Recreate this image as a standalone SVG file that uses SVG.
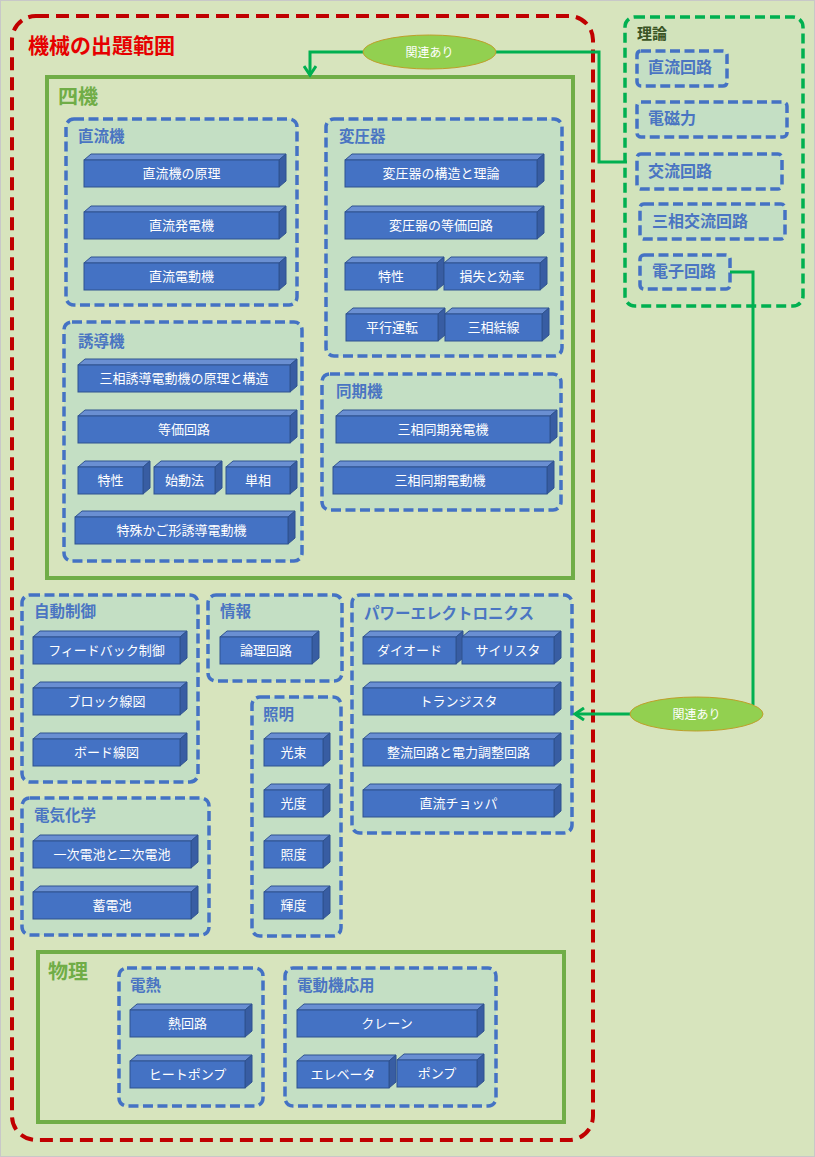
<svg xmlns="http://www.w3.org/2000/svg" width="815" height="1157" viewBox="0 0 815 1157">
<style>
text{font-family:"Noto Sans CJK JP","Noto Sans CJK SC",sans-serif}
.t{fill:#6a8fd2;stroke:#2f528f;stroke-width:1}
.s{fill:#385da3;stroke:#2f528f;stroke-width:1}
.f{fill:#4472c4;stroke:#2f528f;stroke-width:1}
.bt{fill:#fff;font-size:13px;text-anchor:middle}
.grp{fill:#c4dfc4;stroke:#4472c4;stroke-width:3.5;stroke-dasharray:10 4.5}
.gl{fill:#4a75c2;font-size:15.5px;font-weight:bold}
.tl{fill:#4a75c2;font-size:16px;font-weight:bold}
.sec{fill:none;stroke:#70ad47;stroke-width:4}
.secl{fill:#70ad47;font-size:20px;font-weight:bold}
.conn{fill:none;stroke:#00b050;stroke-width:3}
.ell{fill:#92d050;stroke:#bf9f2a;stroke-width:1}
.el{fill:#fff;font-size:12px;text-anchor:middle}
</style>
<defs>
<marker id="arr" markerWidth="14" markerHeight="14" refX="11" refY="7" orient="auto" markerUnits="userSpaceOnUse">
<path d="M2,1 L11,7 L2,13" fill="none" stroke="#00b050" stroke-width="3"/>
</marker>
</defs>
<rect x="0" y="0" width="815" height="1157" fill="#d7e4bd"/>
<rect x="0.5" y="0.5" width="814" height="1156" fill="none" stroke="#c8c8c8" stroke-width="1"/>

<g id="scope">
<rect x="12" y="16" width="581" height="1124" rx="24" fill="none" stroke="#c00000" stroke-width="4" stroke-dasharray="13 7"/>
<text x="28" y="53" font-size="21" font-weight="bold" fill="#e60000">機械の出題範囲</text>
</g>

<g id="theory">
<rect x="625" y="17" width="178" height="289" rx="10" fill="#d2e3bb" stroke="#00b050" stroke-width="3.5" stroke-dasharray="10 5"/>
<text x="637" y="39" font-size="15" font-weight="bold" fill="#3a5424">理論</text>
</g>
<g id="t-dc"><rect class="grp" x="637" y="51" width="90" height="35" rx="4"/><text class="tl" x="648" y="73">直流回路</text></g>
<g id="t-em"><rect class="grp" x="637" y="102" width="150" height="35" rx="4"/><text class="tl" x="648" y="124">電磁力</text></g>
<g id="t-ac"><rect class="grp" x="637" y="154" width="145" height="35" rx="4"/><text class="tl" x="648" y="177">交流回路</text></g>
<g id="t-3ac"><rect class="grp" x="640" y="204" width="145" height="35" rx="4"/><text class="tl" x="652" y="227">三相交流回路</text></g>
<g id="t-elec"><rect class="grp" x="640" y="255" width="90" height="34" rx="4"/><text class="tl" x="652" y="277">電子回路</text></g>

<g id="four">
<rect class="sec" x="47" y="77" width="526" height="501"/>
<text class="secl" x="58" y="104">四機</text>
</g>

<g id="dcm">
<rect class="grp" x="66" y="119" width="231" height="186" rx="8"/>
<text class="gl" x="78" y="142">直流機</text>
<g id="dcm1"><path class="t" d="M84,160 l7,-6 h195 l-7,6 z"/><path class="s" d="M279,160 l7,-6 v27 l-7,6 z"/><rect class="f" x="84" y="160" width="195" height="27"/><text class="bt" x="181.5" y="178">直流機の原理</text></g>
<g id="dcm2"><path class="t" d="M84,212 l7,-6 h195 l-7,6 z"/><path class="s" d="M279,212 l7,-6 v27 l-7,6 z"/><rect class="f" x="84" y="212" width="195" height="27"/><text class="bt" x="181.5" y="230">直流発電機</text></g>
<g id="dcm3"><path class="t" d="M84,263 l7,-6 h195 l-7,6 z"/><path class="s" d="M279,263 l7,-6 v27 l-7,6 z"/><rect class="f" x="84" y="263" width="195" height="27"/><text class="bt" x="181.5" y="281">直流電動機</text></g>
</g>

<g id="trans">
<rect class="grp" x="326" y="119" width="236" height="237" rx="8"/>
<text class="gl" x="339" y="142">変圧器</text>
<g id="tr1"><path class="t" d="M345,160 l7,-6 h192 l-7,6 z"/><path class="s" d="M537,160 l7,-6 v27 l-7,6 z"/><rect class="f" x="345" y="160" width="192" height="27"/><text class="bt" x="441" y="178">変圧器の構造と理論</text></g>
<g id="tr2"><path class="t" d="M345,212 l7,-6 h192 l-7,6 z"/><path class="s" d="M537,212 l7,-6 v27 l-7,6 z"/><rect class="f" x="345" y="212" width="192" height="27"/><text class="bt" x="441" y="230">変圧器の等価回路</text></g>
<g id="tr3"><path class="t" d="M345,263 l7,-6 h92 l-7,6 z"/><path class="s" d="M437,263 l7,-6 v27 l-7,6 z"/><rect class="f" x="345" y="263" width="92" height="27"/><text class="bt" x="391" y="281">特性</text></g>
<g id="tr4"><path class="t" d="M444,263 l7,-6 h96 l-7,6 z"/><path class="s" d="M540,263 l7,-6 v27 l-7,6 z"/><rect class="f" x="444" y="263" width="96" height="27"/><text class="bt" x="492" y="281">損失と効率</text></g>
<g id="tr5"><path class="t" d="M346,314 l7,-6 h92 l-7,6 z"/><path class="s" d="M438,314 l7,-6 v27 l-7,6 z"/><rect class="f" x="346" y="314" width="92" height="27"/><text class="bt" x="392" y="332">平行運転</text></g>
<g id="tr6"><path class="t" d="M445,314 l7,-6 h97 l-7,6 z"/><path class="s" d="M542,314 l7,-6 v27 l-7,6 z"/><rect class="f" x="445" y="314" width="97" height="27"/><text class="bt" x="493.5" y="332">三相結線</text></g>
</g>

<g id="ind">
<rect class="grp" x="64" y="322" width="238" height="239" rx="8"/>
<text class="gl" x="78" y="347">誘導機</text>
<g id="in1"><path class="t" d="M78,365 l7,-6 h212 l-7,6 z"/><path class="s" d="M290,365 l7,-6 v27 l-7,6 z"/><rect class="f" x="78" y="365" width="212" height="27"/><text class="bt" x="184" y="383">三相誘導電動機の原理と構造</text></g>
<g id="in2"><path class="t" d="M78,416 l7,-6 h212 l-7,6 z"/><path class="s" d="M290,416 l7,-6 v27 l-7,6 z"/><rect class="f" x="78" y="416" width="212" height="27"/><text class="bt" x="184" y="434">等価回路</text></g>
<g id="in3"><path class="t" d="M78,467 l7,-6 h65 l-7,6 z"/><path class="s" d="M143,467 l7,-6 v27 l-7,6 z"/><rect class="f" x="78" y="467" width="65" height="27"/><text class="bt" x="110.5" y="485">特性</text></g>
<g id="in4"><path class="t" d="M154,467 l7,-6 h61 l-7,6 z"/><path class="s" d="M215,467 l7,-6 v27 l-7,6 z"/><rect class="f" x="154" y="467" width="61" height="27"/><text class="bt" x="184.5" y="485">始動法</text></g>
<g id="in5"><path class="t" d="M226,467 l7,-6 h64 l-7,6 z"/><path class="s" d="M290,467 l7,-6 v27 l-7,6 z"/><rect class="f" x="226" y="467" width="64" height="27"/><text class="bt" x="258" y="485">単相</text></g>
<g id="in6"><path class="t" d="M75,517 l7,-6 h213 l-7,6 z"/><path class="s" d="M288,517 l7,-6 v27 l-7,6 z"/><rect class="f" x="75" y="517" width="213" height="27"/><text class="bt" x="181.5" y="535">特殊かご形誘導電動機</text></g>
</g>

<g id="sync">
<rect class="grp" x="322" y="374" width="239" height="136" rx="8"/>
<text class="gl" x="336" y="397">同期機</text>
<g id="sy1"><path class="t" d="M336,416 l7,-6 h214 l-7,6 z"/><path class="s" d="M550,416 l7,-6 v27 l-7,6 z"/><rect class="f" x="336" y="416" width="214" height="27"/><text class="bt" x="443" y="434">三相同期発電機</text></g>
<g id="sy2"><path class="t" d="M333,467 l7,-6 h214 l-7,6 z"/><path class="s" d="M547,467 l7,-6 v27 l-7,6 z"/><rect class="f" x="333" y="467" width="214" height="27"/><text class="bt" x="440" y="485">三相同期電動機</text></g>
</g>

<g id="auto">
<rect class="grp" x="22" y="595" width="176" height="187" rx="8"/>
<text class="gl" x="34" y="617">自動制御</text>
<g id="au1"><path class="t" d="M33,637 l7,-6 h147 l-7,6 z"/><path class="s" d="M180,637 l7,-6 v27 l-7,6 z"/><rect class="f" x="33" y="637" width="147" height="27"/><text class="bt" x="106.5" y="655">フィードバック制御</text></g>
<g id="au2"><path class="t" d="M33,688 l7,-6 h147 l-7,6 z"/><path class="s" d="M180,688 l7,-6 v27 l-7,6 z"/><rect class="f" x="33" y="688" width="147" height="27"/><text class="bt" x="106.5" y="706">ブロック線図</text></g>
<g id="au3"><path class="t" d="M33,739 l7,-6 h147 l-7,6 z"/><path class="s" d="M180,739 l7,-6 v27 l-7,6 z"/><rect class="f" x="33" y="739" width="147" height="27"/><text class="bt" x="106.5" y="757">ボード線図</text></g>
</g>

<g id="info">
<rect class="grp" x="208" y="595" width="134" height="86" rx="8"/>
<text class="gl" x="220" y="617">情報</text>
<g id="if1"><path class="t" d="M220,637 l7,-6 h92 l-7,6 z"/><path class="s" d="M312,637 l7,-6 v27 l-7,6 z"/><rect class="f" x="220" y="637" width="92" height="27"/><text class="bt" x="266" y="655">論理回路</text></g>
</g>

<g id="echem">
<rect class="grp" x="22" y="798" width="187" height="137" rx="8"/>
<text class="gl" x="34" y="821">電気化学</text>
<g id="ec1"><path class="t" d="M33,841 l7,-6 h158 l-7,6 z"/><path class="s" d="M191,841 l7,-6 v27 l-7,6 z"/><rect class="f" x="33" y="841" width="158" height="27"/><text class="bt" x="112" y="859">一次電池と二次電池</text></g>
<g id="ec2"><path class="t" d="M33,892 l7,-6 h158 l-7,6 z"/><path class="s" d="M191,892 l7,-6 v27 l-7,6 z"/><rect class="f" x="33" y="892" width="158" height="27"/><text class="bt" x="112" y="910">蓄電池</text></g>
</g>

<g id="light">
<rect class="grp" x="252" y="697" width="89" height="239" rx="8"/>
<text class="gl" x="263" y="720">照明</text>
<g id="li1"><path class="t" d="M264,739 l7,-6 h59 l-7,6 z"/><path class="s" d="M323,739 l7,-6 v27 l-7,6 z"/><rect class="f" x="264" y="739" width="59" height="27"/><text class="bt" x="293.5" y="757">光束</text></g>
<g id="li2"><path class="t" d="M264,790 l7,-6 h59 l-7,6 z"/><path class="s" d="M323,790 l7,-6 v27 l-7,6 z"/><rect class="f" x="264" y="790" width="59" height="27"/><text class="bt" x="293.5" y="808">光度</text></g>
<g id="li3"><path class="t" d="M264,841 l7,-6 h59 l-7,6 z"/><path class="s" d="M323,841 l7,-6 v27 l-7,6 z"/><rect class="f" x="264" y="841" width="59" height="27"/><text class="bt" x="293.5" y="859">照度</text></g>
<g id="li4"><path class="t" d="M264,892 l7,-6 h59 l-7,6 z"/><path class="s" d="M323,892 l7,-6 v27 l-7,6 z"/><rect class="f" x="264" y="892" width="59" height="27"/><text class="bt" x="293.5" y="910">輝度</text></g>
</g>

<g id="pe">
<rect class="grp" x="352" y="595" width="220" height="238" rx="8"/>
<text class="gl" x="364" y="619">パワーエレクトロニクス</text>
<g id="pe1"><path class="t" d="M363,637 l7,-6 h93 l-7,6 z"/><path class="s" d="M456,637 l7,-6 v27 l-7,6 z"/><rect class="f" x="363" y="637" width="93" height="27"/><text class="bt" x="409.5" y="655">ダイオード</text></g>
<g id="pe2"><path class="t" d="M462,637 l7,-6 h92 l-7,6 z"/><path class="s" d="M554,637 l7,-6 v27 l-7,6 z"/><rect class="f" x="462" y="637" width="92" height="27"/><text class="bt" x="508" y="655">サイリスタ</text></g>
<g id="pe3"><path class="t" d="M363,688 l7,-6 h191 l-7,6 z"/><path class="s" d="M554,688 l7,-6 v27 l-7,6 z"/><rect class="f" x="363" y="688" width="191" height="27"/><text class="bt" x="458.5" y="706">トランジスタ</text></g>
<g id="pe4"><path class="t" d="M363,739 l7,-6 h191 l-7,6 z"/><path class="s" d="M554,739 l7,-6 v27 l-7,6 z"/><rect class="f" x="363" y="739" width="191" height="27"/><text class="bt" x="458.5" y="757">整流回路と電力調整回路</text></g>
<g id="pe5"><path class="t" d="M363,790 l7,-6 h191 l-7,6 z"/><path class="s" d="M554,790 l7,-6 v27 l-7,6 z"/><rect class="f" x="363" y="790" width="191" height="27"/><text class="bt" x="458.5" y="808">直流チョッパ</text></g>
</g>

<g id="phys">
<rect class="sec" x="38" y="952" width="526" height="170"/>
<text class="secl" x="48" y="979">物理</text>
</g>

<g id="heat">
<rect class="grp" x="119" y="968" width="144" height="138" rx="8"/>
<text class="gl" x="130" y="991">電熱</text>
<g id="ht1"><path class="t" d="M130,1010 l7,-6 h115 l-7,6 z"/><path class="s" d="M245,1010 l7,-6 v27 l-7,6 z"/><rect class="f" x="130" y="1010" width="115" height="27"/><text class="bt" x="187.5" y="1028">熱回路</text></g>
<g id="ht2"><path class="t" d="M130,1061 l7,-6 h115 l-7,6 z"/><path class="s" d="M245,1061 l7,-6 v27 l-7,6 z"/><rect class="f" x="130" y="1061" width="115" height="27"/><text class="bt" x="187.5" y="1079">ヒートポンプ</text></g>
</g>

<g id="motor">
<rect class="grp" x="285" y="968" width="211" height="138" rx="8"/>
<text class="gl" x="297" y="991">電動機応用</text>
<g id="mo1"><path class="t" d="M297,1010 l7,-6 h180 l-7,6 z"/><path class="s" d="M477,1010 l7,-6 v27 l-7,6 z"/><rect class="f" x="297" y="1010" width="180" height="27"/><text class="bt" x="387" y="1028">クレーン</text></g>
<g id="mo2"><path class="t" d="M297,1061 l7,-6 h92 l-7,6 z"/><path class="s" d="M389,1061 l7,-6 v27 l-7,6 z"/><rect class="f" x="297" y="1061" width="92" height="27"/><text class="bt" x="343" y="1079">エレベータ</text></g>
<g id="mo3"><path class="t" d="M397,1060 l7,-6 h80 l-7,6 z"/><path class="s" d="M477,1060 l7,-6 v27 l-7,6 z"/><rect class="f" x="397" y="1060" width="80" height="27"/><text class="bt" x="437" y="1078">ポンプ</text></g>
</g>

<g id="connectors">
<path class="conn" d="M627,162 H599 V52 H496"/>
<path class="conn" d="M363,52 H310 V75" marker-end="url(#arr)"/>
<ellipse class="ell" cx="429.5" cy="52" rx="66.5" ry="17"/>
<text class="el" x="429.5" y="56.5">関連あり</text>
<path class="conn" d="M730,272 H753 V705"/>
<path class="conn" d="M630,714 H575" marker-end="url(#arr)"/>
<ellipse class="ell" cx="696.5" cy="714" rx="66.5" ry="17"/>
<text class="el" x="696.5" y="718.5">関連あり</text>
</g>
</svg>
